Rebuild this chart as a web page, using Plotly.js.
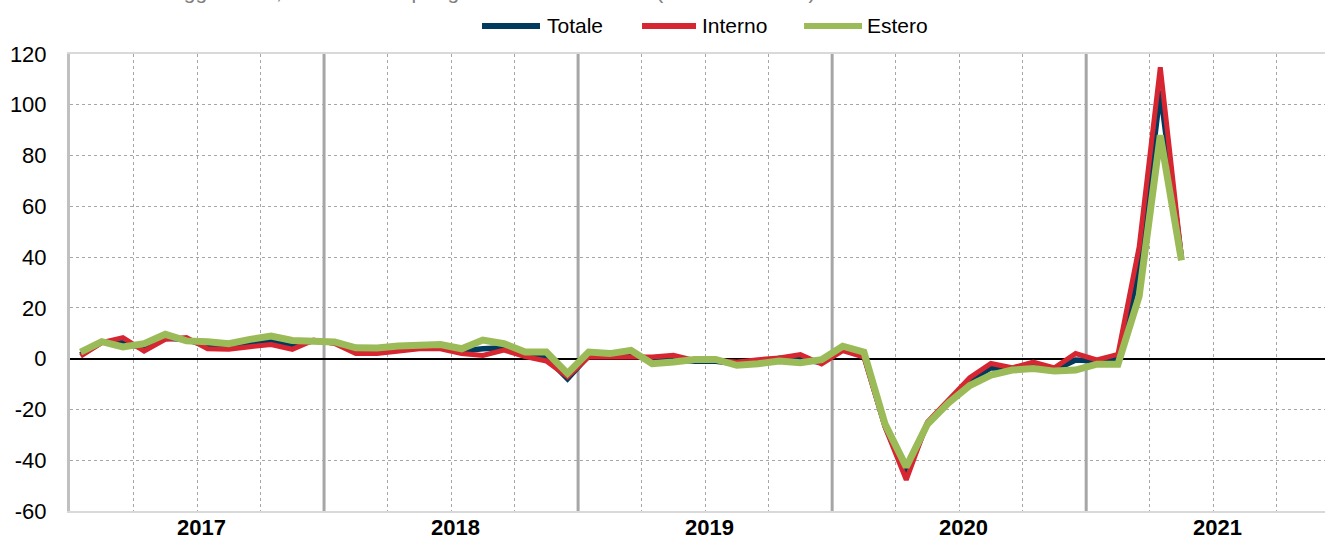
<!DOCTYPE html>
<html>
<head>
<meta charset="utf-8">
<script src="https://cdn.plot.ly/plotly-3.0.1.min.js"></script>
<style>
html,body{margin:0;padding:0;background:#fff;}
#chart{width:1325px;height:551px;}
</style>
</head>
<body>
<div id="chart"></div>
<script>
// Monthly data, January 2017 - May 2021 (index 0 = Jan 2017)
const months = ["2017-01","2017-02","2017-03","2017-04","2017-05","2017-06","2017-07","2017-08","2017-09","2017-10","2017-11","2017-12",
"2018-01","2018-02","2018-03","2018-04","2018-05","2018-06","2018-07","2018-08","2018-09","2018-10","2018-11","2018-12",
"2019-01","2019-02","2019-03","2019-04","2019-05","2019-06","2019-07","2019-08","2019-09","2019-10","2019-11","2019-12",
"2020-01","2020-02","2020-03","2020-04","2020-05","2020-06","2020-07","2020-08","2020-09","2020-10","2020-11","2020-12",
"2021-01","2021-02","2021-03","2021-04","2021-05"];

const totale = [1.5,6.5,6.5,4.0,8.0,7.5,5.0,4.5,5.5,7.0,5.0,7.0,
6.3,3.0,3.0,4.0,4.8,4.8,3.0,3.9,4.3,1.5,0.5,-7.9,
1.2,1.0,1.5,-0.3,-0.3,-1.0,-1.0,-2.0,-1.3,0.2,-0.3,-1.5,
3.9,1.3,-26.5,-45.5,-25.5,-16.8,-9.0,-3.6,-3.9,-2.6,-4.5,-0.5,
-0.9,-0.3,35.0,105.6,39.6];

const interno = [1.0,6.3,8.3,3.0,7.6,8.3,3.9,3.7,4.7,5.6,3.7,7.3,
6.0,2.0,2.0,3.0,3.9,3.9,2.0,1.3,3.4,0.8,-0.9,-7.1,
0.7,0.7,0.7,0.7,1.3,-0.7,-0.7,-1.3,-0.4,0.3,1.6,-2.1,
3.2,0.6,-27.0,-47.7,-25.0,-16.1,-7.5,-1.9,-3.6,-1.3,-3.6,2.0,
-0.5,1.7,44.0,114.8,40.0];

const estero = [2.6,6.7,4.6,5.9,9.6,7.0,6.7,5.9,7.6,8.9,7.2,6.6,
6.6,4.3,4.2,5.0,5.6,5.6,3.9,7.3,5.9,2.6,2.6,-5.8,
2.6,2.0,3.3,-2.0,-1.3,-0.3,-0.3,-2.6,-2.0,-0.9,-1.6,-0.4,
4.9,2.6,-25.8,-42.6,-25.8,-17.4,-10.6,-6.5,-4.5,-3.9,-4.9,-4.5,
-2.2,-2.2,24.6,88.0,38.7];

const years = ["2017","2018","2019","2020","2021"];
const yTickVals = [-60,-40,-20,0,20,40,60,80,100,120];
const yTickText = ["-60","-40","-20","0","20","40","60","80","100","120"];
const seriesNames = ["Totale","Interno","Estero"];
const seriesColors = ["#003A5D","#D62631","#9BBB59"];
const titleText = "Gennaio 2017 - Maggio 2021, indici corretti per gli effetti di calendario (base 2015=100)";

const idx = months.map((m, i) => i);
const yearCentres = years.map((y, k) => k * 12 + 5.5);
const yearBounds = years.slice(1).map((y, k) => (k + 1) * 12 - 0.5);

const FONT = "'Liberation Sans Narrow', 'Arial Narrow', 'Liberation Sans', Arial, sans-serif";
const seriesData = [totale, interno, estero];
const widths = [5.5, 5, 7];

const traces = seriesNames.map((n, k) => ({
  x: idx, y: seriesData[k], name: n, type: "scatter", mode: "lines",
  line: {color: seriesColors[k], width: widths[k]}, showlegend: false
}));

const shapes = yearBounds.map(b => ({
  type: "line", xref: "x", yref: "paper", x0: b, x1: b, y0: 0, y1: 1,
  line: {color: "#A6A6A6", width: 3}, layer: "below"
}));

// custom legend (long line symbols like the reference)
const legX = [[0.3283, 0.3745, 0.3785], [0.4558, 0.4988, 0.5020], [0.5849, 0.6311, 0.6335]];
const legY = 1.0613;
const annotations = [];
seriesNames.forEach((n, k) => {
  shapes.push({type: "line", xref: "paper", yref: "paper", x0: legX[k][0], x1: legX[k][1],
    y0: legY, y1: legY, line: {color: seriesColors[k], width: 6}, layer: "above"});
  annotations.push({text: n, xref: "paper", yref: "paper", x: legX[k][2], y: legY,
    xanchor: "left", yanchor: "middle", showarrow: false,
    font: {family: FONT, size: 21, color: "#000"}});
});

// year labels centred in each year
years.forEach((y, k) => {
  annotations.push({text: "<b>" + y + "</b>", xref: "x", yref: "paper", x: yearCentres[k] + 0.2,
    y: -0.036, xanchor: "center", yanchor: "middle", showarrow: false,
    font: {family: FONT, size: 22, color: "#000"}});
});

annotations.push({
  text: titleText, xref: "paper", yref: "paper", x: -0.0545, y: 1.1075,
  xanchor: "left", yanchor: "bottom", showarrow: false,
  font: {family: FONT, size: 21, color: "#7F7F7F"}
});

const layout = {
  width: 1325, height: 551,
  margin: {l: 70, r: 0, t: 54, b: 40, pad: 0},
  paper_bgcolor: "#fff", plot_bgcolor: "#fff",
  font: {family: FONT, size: 21, color: "#000"},
  showlegend: false,
  xaxis: {
    range: [-0.5, 58.78], showticklabels: false,
    showgrid: false, zeroline: false, ticks: "",
    showline: true, linecolor: "#D9D9D9", linewidth: 2, mirror: true,
    minor: {tick0: -0.5, dtick: 3, showgrid: true, gridcolor: "#A6A6A6", griddash: "dot", gridwidth: 1, ticks: ""},
    fixedrange: true
  },
  yaxis: {
    range: [-60, 120], tickvals: yTickVals, ticktext: yTickText,
    showgrid: true, gridcolor: "#A6A6A6", griddash: "dot", gridwidth: 1,
    zeroline: true, zerolinecolor: "#000", zerolinewidth: 2,
    showline: true, linecolor: "#C0C0C0", linewidth: 3,
    ticks: "", ticklabelstandoff: 16,
    tickfont: {family: FONT, size: 22, color: "#000"},
    fixedrange: true
  },
  shapes: shapes,
  annotations: annotations
};

Plotly.newPlot("chart", traces, layout, {displayModeBar: false, staticPlot: true});
</script>
</body>
</html>
